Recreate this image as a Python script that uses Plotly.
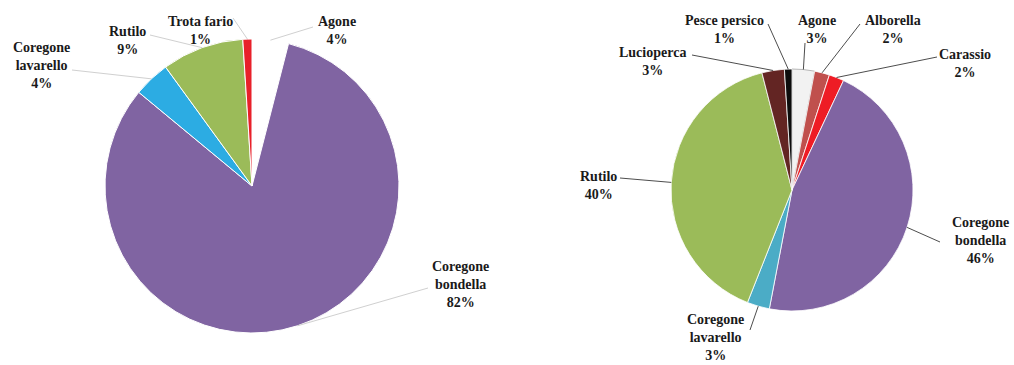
import math
import plotly.graph_objects as go

# ---------------- data ----------------
left_labels = ["Agone", "Coregone bondella", "Coregone lavarello", "Rutilo", "Trota fario"]
left_values = [4, 82, 4, 9, 1]
left_colors = ["#FFFFFF", "#8064A2", "#2CACE3", "#9BBB59", "#E8202A"]

right_labels = ["Agone", "Alborella", "Carassio", "Coregone bondella",
                "Coregone lavarello", "Rutilo", "Lucioperca", "Pesce persico"]
right_values = [3, 2, 2, 46, 3, 40, 3, 1]
right_colors = ["#F2F2F2", "#C0504D", "#EE1C25", "#8064A2",
                "#4BACC6", "#9BBB59", "#632523", "#0D0D0D"]

# ---------------- layout geometry (pixels) ----------------
W, H = 1014, 365
left_center, left_r = (252, 186), 147
right_center, right_r = (792, 190), 121

# label text centres and leader-line start points (pixels)
left_text_pos = [(337, 31), (460, 284), (41, 65), (127, 41), (200, 31)]
left_line_start = [(313, 27), (428, 288), (72, 70), (150, 35), (233, 18)]
right_text_pos = [(817, 29), (893, 29), (965, 64), (980, 240),
                  (715, 337), (598, 185), (652, 62), (724, 29)]
right_line_start = [(805, 43), (860, 24), (937, 57), (940, 242),
                    (750, 330), (620, 178), (692, 55), (768, 24)]

FONT = "Liberation Serif"


def px(x):
    return x / W


def py(y):
    return 1 - y / H


def domain(center, r):
    cx, cy = center
    return dict(x=[px(cx - r), px(cx + r)], y=[py(cy + r), py(cy - r)])


def disp(label):
    return label.replace("Coregone ", "Coregone<br>")


fig = go.Figure()
fig.add_trace(go.Pie(
    labels=left_labels, values=left_values, sort=False, direction="clockwise",
    rotation=0, textinfo="none", hoverinfo="label+percent",
    marker=dict(colors=left_colors, line=dict(color="#FFFFFF", width=1)),
    domain=domain(left_center, left_r), showlegend=False,
))
right_line_colors = ["#A6A6A6"] + ["#FFFFFF"] * (len(right_values) - 1)
fig.add_trace(go.Pie(
    labels=right_labels, values=right_values, sort=False, direction="clockwise",
    rotation=0, textinfo="none", hoverinfo="label+percent",
    marker=dict(colors=right_colors, line=dict(color=right_line_colors, width=0.8)),
    domain=domain(right_center, right_r), showlegend=False,
))

annotations = []
shapes = []


def add_labels(labels, values, center, r, text_pos, line_start, line_color):
    total = sum(values)
    cum = 0
    for lab, v, tp, ls in zip(labels, values, text_pos, line_start):
        mid = (cum + v / 2) / total * 2 * math.pi
        cum += v
        ex = center[0] + r * math.sin(mid)
        ey = center[1] - r * math.cos(mid)
        shapes.append(dict(type="line", xref="paper", yref="paper",
                           x0=px(ls[0]), y0=py(ls[1]), x1=px(ex), y1=py(ey),
                           line=dict(color=line_color, width=1)))
        pct = f"{round(v / total * 100):.0f}%"
        annotations.append(dict(
            xref="paper", yref="paper", x=px(tp[0]), y=py(tp[1]),
            xanchor="center", yanchor="middle", showarrow=False,
            text=f"<b>{disp(lab)}<br>{pct}</b>",
            font=dict(family=FONT, size=14, color="#1A1A1A"),
            align="center", bgcolor="rgba(255,255,255,0)",
        ))


add_labels(left_labels, left_values, left_center, left_r,
           left_text_pos, left_line_start, "#D0D0D0")
add_labels(right_labels, right_values, right_center, right_r,
           right_text_pos, right_line_start, "#4D4D4D")

fig.update_layout(
    width=W, height=H, margin=dict(l=0, r=0, t=0, b=0),
    paper_bgcolor="white", plot_bgcolor="white",
    font=dict(family=FONT),
    annotations=annotations, shapes=shapes, showlegend=False,
)

fig.write_html("out.html")
